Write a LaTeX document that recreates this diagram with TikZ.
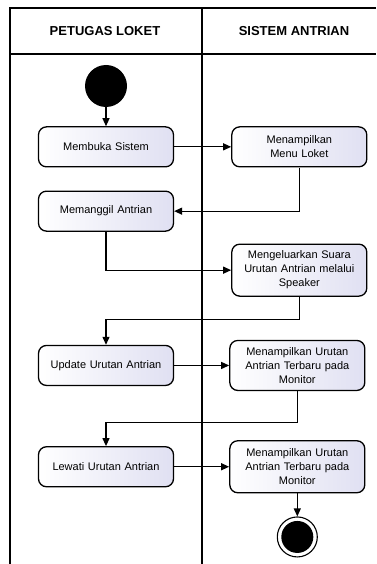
\documentclass[tikz,border=0pt]{standalone}
\usepackage{fontspec}
\setmainfont{Liberation Sans}
\usetikzlibrary{
  arrows.meta,
  positioning,
  calc
}
\definecolor{actfill}{RGB}{224,224,242}
\tikzset{
  action/.style={
    rectangle, rounded corners=8pt, draw=black, line width=1.3pt,
    left color=white, right color=actfill,
    minimum width=135pt, minimum height=40pt, text width=128pt,
    align=center, inner sep=2pt, font=\fontsize{11}{14}\selectfont
  },
  initial/.style={
    circle, fill=black, minimum size=42pt, inner sep=0pt
  },
  final/.style={
    circle, draw=black, line width=1.1pt, fill=white,
    minimum size=40pt, inner sep=0pt,
    path picture={\fill[black] (path picture bounding box.center) circle (16pt);}
  },
  flow/.style={-{Triangle[length=8pt,width=7pt]}, line width=1.2pt},
  lane/.style={line width=2pt},
  lanehead/.style={font=\fontsize{13}{15}\selectfont\bfseries}
}

\begin{document}
\begin{tikzpicture}[node distance=20pt]
  \useasboundingbox (0,0) rectangle (376pt,-564pt);

  \draw[lane] (10pt,-564pt) -- (10pt,-8pt) -- (376pt,-8pt);
  \draw[lane] (10pt,-54pt) -- (376pt,-54pt);
  \draw[lane] (202pt,-8pt) -- (202pt,-564pt);

  \node[lanehead] (hpetugas) at (105pt,-31pt) {PETUGAS LOKET};
  \node[lanehead] (hsistem) at (294pt,-31pt) {SISTEM ANTRIAN};

  \node[initial] (start) at (106pt,-86pt) {};
  \node[action, below=19pt of start] (buka) {Membuka Sistem};
  \node[action, right=57pt of buka] (menu) {Menampilkan\\Menu Loket};
  \node[action, below=23pt of buka] (panggil) {Memanggil Antrian};
  \node[action, below=76pt of menu, minimum height=52pt]
    (suara) {Mengeluarkan Suara\\Urutan Antrian melalui\\Speaker};
  \node[action, below=113pt of panggil] (update) {Update Urutan Antrian};
  \node[action, right=55pt of update, minimum height=50pt]
    (tampil) {Menampilkan Urutan\\Antrian Terbaru pada\\Monitor};
  \node[action, below=60pt of update] (lewati) {Lewati Urutan Antrian};
  \node[action, right=55pt of lewati, minimum height=52pt]
    (tampilb) {Menampilkan Urutan\\Antrian Terbaru pada\\Monitor};
  \node[final, below=23pt of tampilb] (done) {};

  \draw[flow] (start) -- (buka);
  \draw[flow] (buka) -- (menu);
  \draw[flow] (menu.south) |- (panggil.east);
  \draw[flow] (panggil.south) |- (suara.west);
  \draw[flow] (suara.south) -- ++(0,-23pt) -| (update.north);
  \draw[flow] (update) -- (tampil);
  \draw[flow] (tampil.south) -- ++(0,-31pt) -| (lewati.north);
  \draw[flow] (lewati) -- (tampilb);
  \draw[flow] (tampilb) -- (done);
\end{tikzpicture}
\end{document}
